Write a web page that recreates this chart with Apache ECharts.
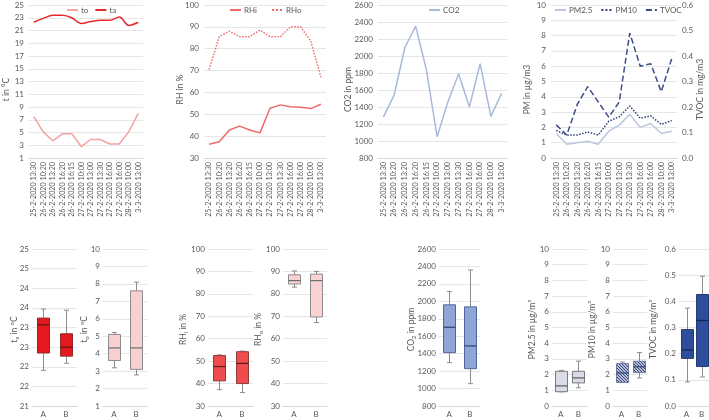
<!DOCTYPE html>
<html><head><meta charset="utf-8">
<script src="https://cdn.jsdelivr.net/npm/echarts@6/dist/echarts.min.js"></script>
<style>html,body{margin:0;padding:0;background:#fff}#c{width:709px;height:420px}</style>
</head><body><div id="c"></div><script>
// ---------- data ----------
const categories = ['25-2-2020 13:30','26-2-2020 10:20','26-2-2020 13:20','26-2-2020 16:20','26-2-2020 16:15','27-2-2020 10:00','27-2-2020 13:00','27-2-2020 13:30','27-2-2020 16:00','27-2-2020 16:00','28-2-2020 10:00','3-3-2020 13:00'];
const toVals  = [7.5, 5.1, 3.7, 4.8, 4.8, 2.8, 3.9, 3.9, 3.2, 3.2, 5.1, 8.0];
const taVals  = [22.3, 22.9, 23.4, 23.4, 23.0, 22.1, 22.4, 22.6, 22.6, 23.1, 21.8, 22.3];
const rhiVals = [36.3, 37.4, 42.8, 44.6, 42.8, 41.5, 52.8, 54.3, 53.4, 53.2, 52.6, 54.6];
const rhoVals = [70.5, 85.5, 88.0, 85.5, 85.5, 88.5, 85.5, 85.5, 90.0, 90.0, 83.5, 67.0];
const co2Vals = [1280, 1540, 2100, 2350, 1840, 1050, 1460, 1790, 1400, 1910, 1290, 1560];
const pm25Vals = [1.6, 0.9, 1.0, 1.1, 0.9, 1.75, 2.15, 2.85, 2.0, 2.25, 1.6, 1.75];
const pm10Vals = [1.8, 1.5, 1.5, 1.7, 1.5, 2.4, 2.7, 3.4, 2.6, 2.75, 2.2, 2.45];
const tvocVals = [0.13, 0.09, 0.21, 0.28, 0.22, 0.16, 0.22, 0.49, 0.36, 0.37, 0.26, 0.39];

const boxCats = ['A', 'B'];
// [min, Q1, median, Q3, max]
const boxTa   = [[21.91, 22.35, 23.07, 23.24, 23.47], [22.09, 22.27, 22.50, 22.84, 23.44]];
const boxTo   = [[3.19, 3.61, 4.33, 5.10, 5.21], [2.78, 3.10, 4.33, 7.60, 8.10]];
const boxRHi  = [[37.3, 41.2, 47.6, 52.5, 52.8], [36.0, 40.0, 49.0, 54.2, 54.5]];
const boxRHo  = [[83.0, 84.4, 85.9, 88.5, 90.2], [67.2, 69.7, 85.9, 88.8, 90.0]];
const boxCO2  = [[1297, 1412, 1703, 1960, 2113], [1056, 1228, 1489, 1937, 2359]];
const boxPM25 = [[0.90, 0.91, 1.28, 2.21, 2.27], [1.16, 1.47, 1.79, 2.21, 2.86]];
const boxPM10 = [[1.50, 1.50, 2.10, 2.70, 2.80], [1.79, 2.13, 2.50, 2.85, 3.40]];
const boxTVOC = [[0.092, 0.182, 0.214, 0.292, 0.374], [0.111, 0.151, 0.327, 0.426, 0.496]];

// ---------- styling helpers ----------
const FONT = 'Lato';
const TXT = '#595959';
const GRIDC = '#e6e6e6';

function hatch() {
  const c = document.createElement('canvas');
  c.width = 3; c.height = 3;
  const g = c.getContext('2d');
  g.fillStyle = '#eef0f6'; g.fillRect(0, 0, 3, 3);
  g.strokeStyle = '#2f3f79'; g.lineWidth = 1.1;
  g.beginPath(); g.moveTo(0, 0); g.lineTo(3, 3); g.moveTo(-1, 2); g.lineTo(1, 4); g.moveTo(2, -1); g.lineTo(4, 1); g.stroke();
  return c;
}

const grids = [
  {left: 27, top: 5, width: 116, height: 153},
  {left: 204, top: 5, width: 122, height: 153},
  {left: 378, top: 5, width: 129, height: 153},
  {left: 551, top: 5, width: 126, height: 153},
  {left: 32, top: 249, width: 45, height: 157},
  {left: 103, top: 249, width: 44, height: 157},
  {left: 208, top: 249, width: 45, height: 157},
  {left: 283, top: 249, width: 44, height: 157},
  {left: 439, top: 249, width: 41, height: 157},
  {left: 552, top: 249, width: 35, height: 157},
  {left: 613, top: 249, width: 34, height: 157},
  {left: 679, top: 249, width: 30, height: 157}
];

function xTop(gi) {
  return {type: 'category', gridIndex: gi, data: categories, boundaryGap: true,
    axisLine: {lineStyle: {color: '#d9d9d9'}}, axisTick: {show: false},
    axisLabel: {interval: 0, rotate: 90, fontSize: 7.2, color: TXT, fontFamily: FONT, margin: 4}};
}
function xBot(gi) {
  return {type: 'category', gridIndex: gi, data: boxCats, boundaryGap: true,
    axisLine: {lineStyle: {color: '#d9d9d9'}}, axisTick: {show: false},
    axisLabel: {fontSize: 8, color: TXT, fontFamily: FONT, margin: 4}};
}
const richSub = {s: {fontSize: 6, verticalAlign: 'bottom', lineHeight: 12, fontFamily: FONT, color: TXT}};
function yAx(gi, min, max, interval, name, gap, fmt, extra, top) {
  return Object.assign({type: 'value', gridIndex: gi, min: min, max: max, interval: interval,
    name: name, nameLocation: 'middle', nameRotate: 90, nameGap: gap, nameMoveOverlap: false,
    nameTextStyle: {fontSize: 8.5, color: TXT, fontFamily: FONT, rich: richSub, lineHeight: 11,
      padding: top ? [0, 16, 0, 0] : [0, 4, 0, 0]},
    axisLine: {show: false}, axisTick: {show: false},
    splitLine: {lineStyle: {color: GRIDC, width: 1}},
    axisLabel: {fontSize: 8, color: TXT, fontFamily: FONT, margin: top ? 5 : 3, formatter: fmt || (v => String(v))}}, extra || {});
}
const fx1 = v => v.toFixed(1);
const fround = v => String(Math.round(v));

function boxRender(fill, stroke, median, whisker) {
  return function (params, api) {
    const i = api.value(0);
    const p = [1, 2, 3, 4, 5].map(k => api.coord([i, api.value(k)]));
    const x = Math.round(p[0][0]) + 0.5;
    const hw = 6, cw = 2.5;
    const ws = {stroke: whisker, lineWidth: 1};
    return {type: 'group', children: [
      {type: 'line', shape: {x1: x, y1: p[0][1], x2: x, y2: p[1][1]}, style: ws},
      {type: 'line', shape: {x1: x, y1: p[3][1], x2: x, y2: p[4][1]}, style: ws},
      {type: 'line', shape: {x1: x - cw, y1: p[0][1], x2: x + cw, y2: p[0][1]}, style: ws},
      {type: 'line', shape: {x1: x - cw, y1: p[4][1], x2: x + cw, y2: p[4][1]}, style: ws},
      {type: 'rect', shape: {x: x - hw, y: p[3][1], width: 2 * hw, height: p[1][1] - p[3][1]},
        style: {fill: fill, stroke: stroke, lineWidth: 1}},
      {type: 'line', shape: {x1: x - hw, y1: p[2][1], x2: x + hw, y2: p[2][1]}, style: {stroke: median, lineWidth: 1.2}}
    ]};
  };
}
function boxSeries(name, gi, yi, arr, fill, stroke, median, whisker) {
  return {type: 'custom', name: name, xAxisIndex: gi, yAxisIndex: yi,
    data: arr.map((d, i) => [i].concat(d)),
    encode: {x: 0, y: [1, 2, 3, 4, 5]},
    renderItem: boxRender(fill, stroke, median, whisker)};
}

const xAxes = [];
for (let g = 0; g < 4; g++) xAxes.push(xTop(g));
for (let g = 4; g < 12; g++) xAxes.push(xBot(g));

const yAxes = [
  yAx(0, 1, 25, 2, 't in °C', 17, null, null, true),
  yAx(1, 30, 100, 10, 'RH in %', 18, null, null, true),
  yAx(2, 800, 2600, 200, 'CO2 in ppm', 24, null, null, true),
  yAx(3, 0, 10, 1, 'PM in µg/m3', 18, null, null, true),
  yAx(3, 0, 0.6, 0.1, 'TVOC in mg/m3', 18, fx1, {position: 'right', splitLine: {show: false}}, true),
  yAx(4, 21, 25, 0.5, 't{s|a} in ºC', 12, fround),
  yAx(5, 1, 10, 1, 't{s|o} in ºC', 13),
  yAx(6, 30, 100, 10, 'RH{s|i} in %', 19),
  yAx(7, 30, 100, 10, 'RH{s|o} in %', 19),
  yAx(8, 800, 2600, 200, 'CO{s|2} in ppm', 22),
  yAx(9, 0, 10, 1, 'PM2.5 in µg/m³', 14),
  yAx(10, 0, 10, 1, 'PM10 in µg/m³', 15),
  yAx(11, 0, 0.6, 0.1, 'TVOC in mg/m³', 20, fx1)
];

function line(name, xi, yi, data, color, type, smooth) {
  return {type: 'line', name: name, xAxisIndex: xi, yAxisIndex: yi, data: data, symbol: 'none',
    smooth: smooth || false, lineStyle: {color: color, width: 1.5, type: type || 'solid'},
    itemStyle: {color: color}};
}

const legendBase = {top: 6, itemWidth: 11, itemHeight: 8, itemGap: 6, padding: 0,
  itemStyle: {opacity: 0},
  textStyle: {fontSize: 8, color: TXT, fontFamily: FONT, padding: [0, 0, 0, -2]}};

const option = {
  animation: false,
  backgroundColor: '#fff',
  grid: grids,
  xAxis: xAxes,
  yAxis: yAxes,
  legend: [
    Object.assign({}, legendBase, {left: 66, data: ['to', 'ta']}),
    Object.assign({}, legendBase, {left: 229, data: ['RHi', 'RHo'], itemGap: 14}),
    Object.assign({}, legendBase, {left: 428, data: ['CO2']}),
    Object.assign({}, legendBase, {left: 554, data: ['PM2.5', 'PM10', 'TVOC'], itemGap: 8})
  ],
  series: [
    line('to', 0, 0, toVals, '#f4a3a3'),
    line('ta', 0, 0, taVals, '#e8292b', 'solid', 0.35),
    line('RHi', 1, 1, rhiVals, '#f06a6a'),
    line('RHo', 1, 1, rhoVals, '#f06a6a', 'dotted'),
    line('CO2', 2, 2, co2Vals, '#a9b8de'),
    line('PM2.5', 3, 3, pm25Vals, '#bcc6de'),
    line('PM10', 3, 3, pm10Vals, '#2f3f79', 'dotted'),
    line('TVOC', 3, 4, tvocVals, '#3b4d88', [6, 3]),
    boxSeries('bta', 4, 5, boxTa, '#e3191f', '#8c2a2a', '#5a1a1a', '#8c8c8c'),
    boxSeries('bto', 5, 6, boxTo, '#f9d0d0', '#8c8c8c', '#6e6e6e', '#8c8c8c'),
    boxSeries('brhi', 6, 7, boxRHi, '#ef4d4d', '#8c3a3a', '#5a1a1a', '#8c8c8c'),
    boxSeries('brho', 7, 8, boxRHo, '#fbd2d2', '#8c8c8c', '#6e6e6e', '#8c8c8c'),
    boxSeries('bco2', 8, 9, boxCO2, '#8ea6d6', '#51669c', '#2f3f6e', '#8c8c8c'),
    boxSeries('bpm25', 9, 10, boxPM25, '#d8dce6', '#7a7a7a', '#5a5a5a', '#8c8c8c'),
    boxSeries('bpm10', 10, 11, boxPM10, {image: hatch(), repeat: 'repeat'}, '#6b7aa3', '#2f3f79', '#8c8c8c'),
    boxSeries('btvoc', 11, 12, boxTVOC, '#2e4d9a', '#223a78', '#14244f', '#8c8c8c')
  ]
};

const chart = echarts.init(document.getElementById('c'), null, {renderer: 'canvas'});
chart.setOption(option);
</script></body></html>
